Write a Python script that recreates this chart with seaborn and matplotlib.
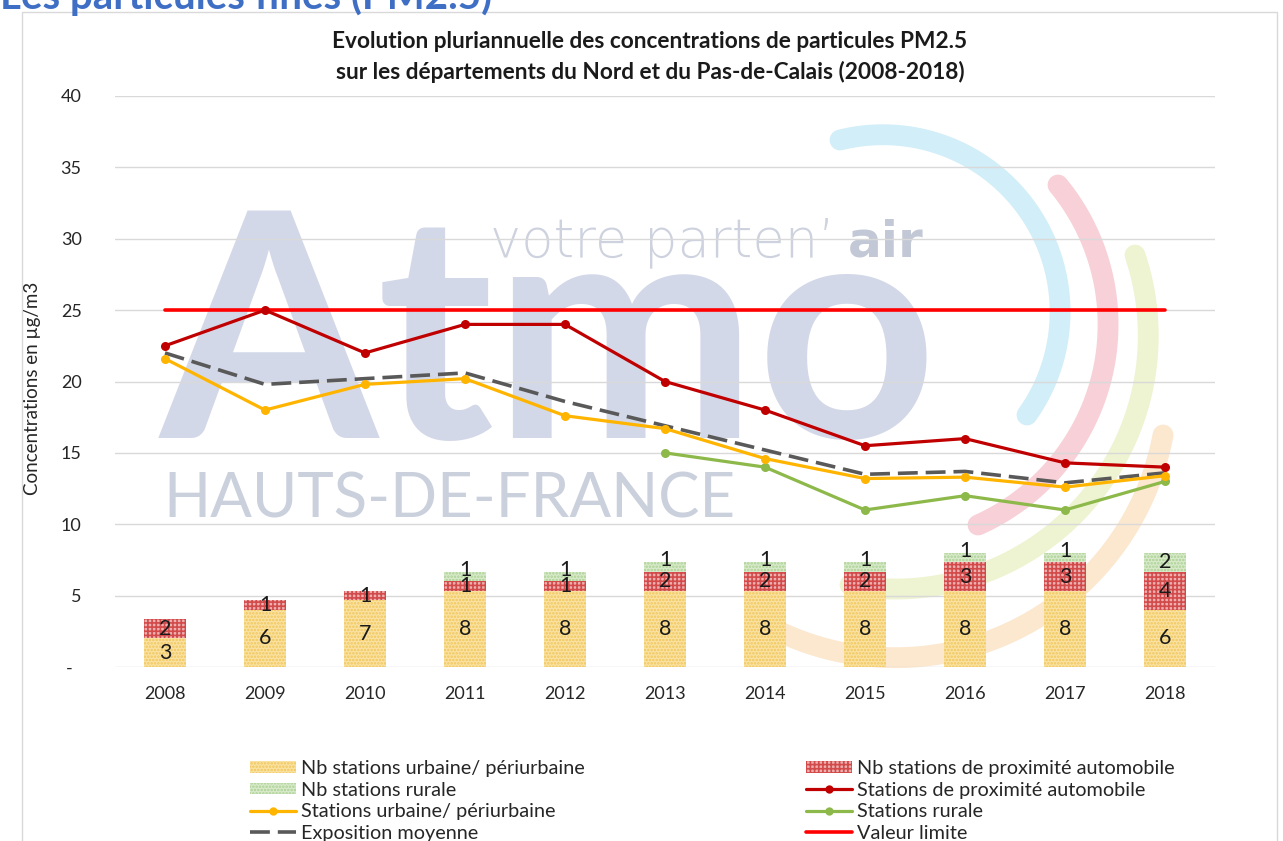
import numpy as np
import pandas as pd
import matplotlib.pyplot as plt
import seaborn as sns
from matplotlib.patches import Patch, Rectangle
from matplotlib.lines import Line2D

### Data
years = [2008, 2009, 2010, 2011, 2012, 2013, 2014, 2015, 2016, 2017, 2018]

# number of stations (bars, hidden secondary axis 0-60)
nb_urbaine = [3, 6, 7, 8, 8, 8, 8, 8, 8, 8, 6]
nb_proximite = [2, 1, 1, 1, 1, 2, 2, 2, 3, 3, 4]
nb_rurale = [0, 0, 0, 1, 1, 1, 1, 1, 1, 1, 2]

# concentrations in ug/m3 (lines)
conc_proximite = [22.5, 25.0, 22.0, 24.0, 24.0, 20.0, 18.0, 15.5, 16.0, 14.3, 14.0]
conc_urbaine = [21.6, 18.0, 19.8, 20.2, 17.6, 16.7, 14.6, 13.2, 13.3, 12.6, 13.4]
conc_rurale = [np.nan, np.nan, np.nan, np.nan, np.nan, 15.0, 14.0, 11.0, 12.0, 11.0, 13.0]
expo_moyenne = [22.0, 19.8, 20.2, 20.6, 18.6, 16.9, 15.2, 13.5, 13.7, 12.9, 13.6]
valeur_limite = [25, 25, 25, 25, 25, 25, 25, 25, 25, 25, 25]

yticks = [0, 5, 10, 15, 20, 25, 30, 35, 40]
ytick_labels = ['-  ', '5', '10', '15', '20', '25', '30', '35', '40']

df = pd.DataFrame({
    'annee': years,
    'nb_urbaine': nb_urbaine,
    'nb_proximite': nb_proximite,
    'nb_rurale': nb_rurale,
    'conc_proximite': conc_proximite,
    'conc_urbaine': conc_urbaine,
    'conc_rurale': conc_rurale,
    'expo_moyenne': expo_moyenne,
    'valeur_limite': valeur_limite,
})
df['cum_prox'] = df['nb_urbaine'] + df['nb_proximite']
df['cum_rur'] = df['cum_prox'] + df['nb_rurale']

# colours
c_urb_face, c_urb_hatch = '#F9E2A2', '#F2C65A'
c_prox_face, c_prox_hatch = '#EDB0B0', '#D24A4A'
c_rur_face, c_rur_hatch = '#D8EACB', '#ABD192'
c_prox_line = '#C00000'
c_urb_line = '#FFB400'
c_rur_line = '#8DB84A'
c_expo = '#595959'
c_limite = '#FF0000'
dash = (0, (5.5, 2.2))

sns.set_style('white')
plt.rcParams['font.family'] = ['Lato', 'DejaVu Sans']
plt.rcParams['hatch.linewidth'] = 1.2

W, H = 1283, 841
fig = plt.figure(figsize=(W / 100, H / 100), dpi=100)

### Background: frame, heading and faded logo watermark (pixel coordinates)
bg = fig.add_axes([0, 0, 1, 1], zorder=0)
bg.set_xlim(0, W)
bg.set_ylim(H, 0)
bg.axis('off')
bg.add_patch(Rectangle((22, 12), 1255, 860, fill=False, edgecolor='#D9D9D9', lw=1))
bg.text(0, 9, 'Les particules fines (PM2.5)', fontsize=29, fontweight='bold',
        color='#3F6FC5', va='baseline', ha='left')


def arc_xy(p1, p2, p3, n=100):
    (x1, y1), (x2, y2), (x3, y3) = p1, p2, p3
    d = 2 * (x1 * (y2 - y3) + x2 * (y3 - y1) + x3 * (y1 - y2))
    ux = ((x1**2 + y1**2) * (y2 - y3) + (x2**2 + y2**2) * (y3 - y1) + (x3**2 + y3**2) * (y1 - y2)) / d
    uy = ((x1**2 + y1**2) * (x3 - x2) + (x2**2 + y2**2) * (x1 - x3) + (x3**2 + y3**2) * (x2 - x1)) / d
    r = np.hypot(x1 - ux, y1 - uy)
    a1, a2, a3 = [np.arctan2(y - uy, x - ux) for x, y in (p1, p2, p3)]
    d13 = (a3 - a1) % (2 * np.pi)
    d12 = (a2 - a1) % (2 * np.pi)
    if d12 < d13:
        t = np.linspace(a1, a1 + d13, n)
    else:
        t = np.linspace(a1, a1 - (2 * np.pi - d13), n)
    return ux + r * np.cos(t), uy + r * np.sin(t)


arcs = [
    (((840, 140), (1060, 317), (1027, 415)), '#D2EEF8'),
    (((1058, 185), (1108, 330), (978, 525)), '#F8D0D8'),
    (((1135, 255), (1140, 400), (850, 585)), '#EEF4D2'),
    (((1163, 435), (1100, 565), (780, 632)), '#FCE7CF'),
]
for pts, col in arcs:
    ax_, ay_ = arc_xy(*pts)
    bg.plot(ax_, ay_, color=col, lw=15, solid_capstyle='round')

bg.text(160, 438, 'Atmo', fontsize=226, fontweight='bold', color='#D3D8E8',
        va='baseline', ha='left')
bg.text(163, 517, 'HAUTS-DE-FRANCE', fontsize=44.5, color='#CBD0DD',
        va='baseline', ha='left')
bg.text(490, 256, "votre parten\u2019", fontsize=38, family='DejaVu Sans',
        fontweight='light', color='#CDD2DE', va='baseline', ha='left')
bg.text(848, 256, 'air', fontsize=36, family='DejaVu Sans', fontweight='bold',
        color='#C3C8D6', va='baseline', ha='left')

### Main axes (concentrations)
ax = fig.add_axes([115 / W, 1 - 667 / H, 1100 / W, 571 / H], zorder=1)
ax.patch.set_visible(False)

# hidden secondary axis for number of stations
ax2 = ax.twinx()
ax2.set_zorder(2)
ax2.patch.set_visible(False)

bar_w = 0.42
sns.barplot(data=df, x='annee', y='cum_rur', native_scale=True, width=bar_w,
            color=c_rur_face, saturation=1, errorbar=None, ax=ax2,
            hatch='.....', edgecolor=c_rur_hatch, linewidth=0)
sns.barplot(data=df, x='annee', y='cum_prox', native_scale=True, width=bar_w,
            color=c_prox_face, saturation=1, errorbar=None, ax=ax2,
            hatch='++++', edgecolor=c_prox_hatch, linewidth=0)
sns.barplot(data=df, x='annee', y='nb_urbaine', native_scale=True, width=bar_w,
            color=c_urb_face, saturation=1, errorbar=None, ax=ax2,
            hatch='.....', edgecolor=c_urb_hatch, linewidth=0)

# counts written in the middle of each segment (small rural ones nudged up)
for _, row in df.iterrows():
    segs = [(0, row['nb_urbaine'], 0),
            (row['nb_urbaine'], row['nb_proximite'], 0),
            (row['cum_prox'], row['nb_rurale'], 5 if row['nb_rurale'] == 1 else 0)]
    for bottom, n, dy in segs:
        if n > 0:
            ax2.annotate(f'{int(n)}', (row['annee'], bottom + n / 2),
                         xytext=(0, dy), textcoords='offset points',
                         ha='center', va='center', fontsize=15.5, color='#1A1A1A')

ax2.set_ylim(0, 60)
ax2.set_yticks([])
ax2.set_ylabel('')
for s in ax2.spines.values():
    s.set_visible(False)

# lines
line_kw = dict(lw=2.3, marker='o', markersize=6.5, markeredgewidth=0, ax=ax)
sns.lineplot(data=df, x='annee', y='valeur_limite', color=c_limite, lw=2.6, ax=ax)
sns.lineplot(data=df, x='annee', y='expo_moyenne', color=c_expo, lw=2.6,
             linestyle=dash, ax=ax)
sns.lineplot(data=df, x='annee', y='conc_rurale', color=c_rur_line, **line_kw)
sns.lineplot(data=df, x='annee', y='conc_urbaine', color=c_urb_line, **line_kw)
sns.lineplot(data=df, x='annee', y='conc_proximite', color=c_prox_line, **line_kw)

ax.set_xlim(years[0] - 0.5, years[-1] + 0.5)
ax.set_ylim(0, 40)
ax.set_yticks(yticks, ytick_labels)
ax.set_xticks(years, [str(y) for y in years])
ax.tick_params(axis='y', length=0, pad=24, labelsize=13, labelcolor='#262626')
ax.tick_params(axis='x', length=0, pad=14, labelsize=13, labelcolor='#262626')
ax.grid(axis='y', color='#D9D9D9', lw=1)
ax.set_axisbelow(True)
ax.set_xlabel('')
ax.set_ylabel('')
for s in ax.spines.values():
    s.set_visible(False)

fig.text(33 / W, 1 - 388 / H, 'Concentrations en \u00b5g/m3', rotation=90,
         ha='center', va='center', fontsize=13.5, color='#262626')

fig.text(650 / W, 1 - 42 / H, 'Evolution pluriannuelle des concentrations de particules PM2.5',
         ha='center', va='center', fontsize=16.3, fontweight='bold', color='#1A1A1A')
fig.text(650 / W, 1 - 72 / H, 'sur les d\u00e9partements du Nord et du Pas-de-Calais (2008-2018)',
         ha='center', va='center', fontsize=16.3, fontweight='bold', color='#1A1A1A')

### Legend (two columns)
h_urb = Patch(facecolor=c_urb_face, edgecolor=c_urb_hatch, hatch='.....', lw=0)
h_rur = Patch(facecolor=c_rur_face, edgecolor=c_rur_hatch, hatch='.....', lw=0)
h_prox = Patch(facecolor=c_prox_face, edgecolor=c_prox_hatch, hatch='++++', lw=0)
l_urb = Line2D([], [], color=c_urb_line, lw=2.3, marker='o', markersize=6, markeredgewidth=0)
l_prox = Line2D([], [], color=c_prox_line, lw=2.3, marker='o', markersize=6, markeredgewidth=0)
l_rur = Line2D([], [], color=c_rur_line, lw=2.3, marker='o', markersize=6, markeredgewidth=0)
l_expo = Line2D([], [], color=c_expo, lw=2.6, linestyle=dash)
l_lim = Line2D([], [], color=c_limite, lw=2.6)

leg_kw = dict(loc='upper left', frameon=False, fontsize=14.3, handlelength=2.3,
              handleheight=0.5, handletextpad=0.25, labelspacing=0.23, borderpad=0,
              borderaxespad=0, labelcolor='#262626')
leg1 = fig.legend([h_urb, h_rur, l_urb, l_expo],
                  ['Nb stations urbaine/ p\u00e9riurbaine', 'Nb stations rurale',
                   'Stations urbaine/ p\u00e9riurbaine', 'Exposition moyenne'],
                  bbox_to_anchor=(250 / W, 1 - 760 / H), **leg_kw)
leg2 = fig.legend([h_prox, l_prox, l_rur, l_lim],
                  ['Nb stations de proximit\u00e9 automobile', 'Stations de proximit\u00e9 automobile',
                   'Stations rurale', 'Valeur limite'],
                  bbox_to_anchor=(806 / W, 1 - 760 / H), **leg_kw)

fig.savefig('out.png', dpi=100, facecolor='white')
